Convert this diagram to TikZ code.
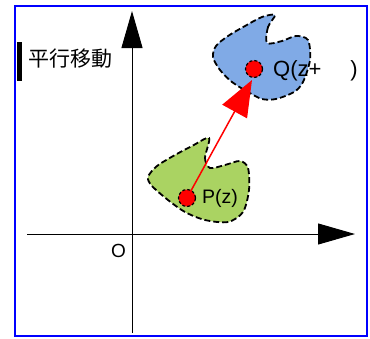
\documentclass[tikz,border=0pt]{standalone}
\usepackage{fontspec}
\setmainfont{Liberation Sans}
\newfontfamily\cjk{Noto Sans CJK JP}
\usetikzlibrary{arrows.meta}
\definecolor{blobgreen}{RGB}{170,211,98}
\definecolor{blobblue}{RGB}{128,170,230}
\begin{document}
\begin{tikzpicture}[x=1pt,y=-1pt,
  axis/.style={line width=1pt,-{Triangle[length=37pt,width=21pt]}},
  blob/.style={draw=black,line width=1.8pt,dash pattern=on 6pt off 3pt},
  dot/.style={circle,fill=red,draw=black,line width=1.2pt,dash pattern=on 3pt off 2pt,minimum size=17pt,inner sep=0pt},
  lbl/.style={inner sep=0pt,anchor=base west}]
\useasboundingbox (0,0) rectangle (370,338);
\draw[blue,line width=2pt] (15,6) rectangle (367,336);
% title
\fill[black] (17,42) rectangle (22,81);
\node[lbl] (title) at (28,66) {\fontsize{21}{23}\selectfont\cjk 平行移動};
% axes
\coordinate (xs) at (27,234);
\coordinate (xe) at (355,234);
\coordinate (ys) at (132,333);
\coordinate (ye) at (132,11);
\draw[axis] (xs) -- (xe);
\draw[axis] (ys) -- (ye);
\node[lbl] (O) at (111,257) {\fontsize{19}{21}\selectfont O};
% green blob
\draw[blob,fill=blobgreen] plot[smooth cycle,tension=0.5] coordinates {
  (209,138) (205,158) (210,168) (225,165) (240,161) (248,168) (249,190)
  (243,212) (228,222) (205,220) (185,212) (168,200) (152,186) (148,177)
  (157,166) (175,155) (192,146)};
% blue blob
\draw[blob,fill=blobblue] plot[smooth cycle,tension=0.5] coordinates {
  (275,15) (268,27) (267,43) (282,41) (296,36) (308,40) (310,60) (303,82)
  (294,92) (276,99) (262,99) (248,92) (232,82) (220,70) (213,57) (216,46)
  (228,36) (245,26) (262,17)};
% points
\node[dot] (P) at (187,198) {};
\node[dot] (Q) at (254,69) {};
\node[lbl] (Plbl) at (202,203) {\fontsize{19.5}{21}\selectfont P(z)};
\node[lbl] (Qlbl) at (273,76) {\fontsize{22}{24}\selectfont Q(z+\hspace{29pt})};
% arrow
\coordinate (Qtip) at (252,80);
\draw[red,line width=1.5pt,-{Triangle[length=36pt,width=28pt]}] (P.center) -- (Qtip);
\end{tikzpicture}
\end{document}
